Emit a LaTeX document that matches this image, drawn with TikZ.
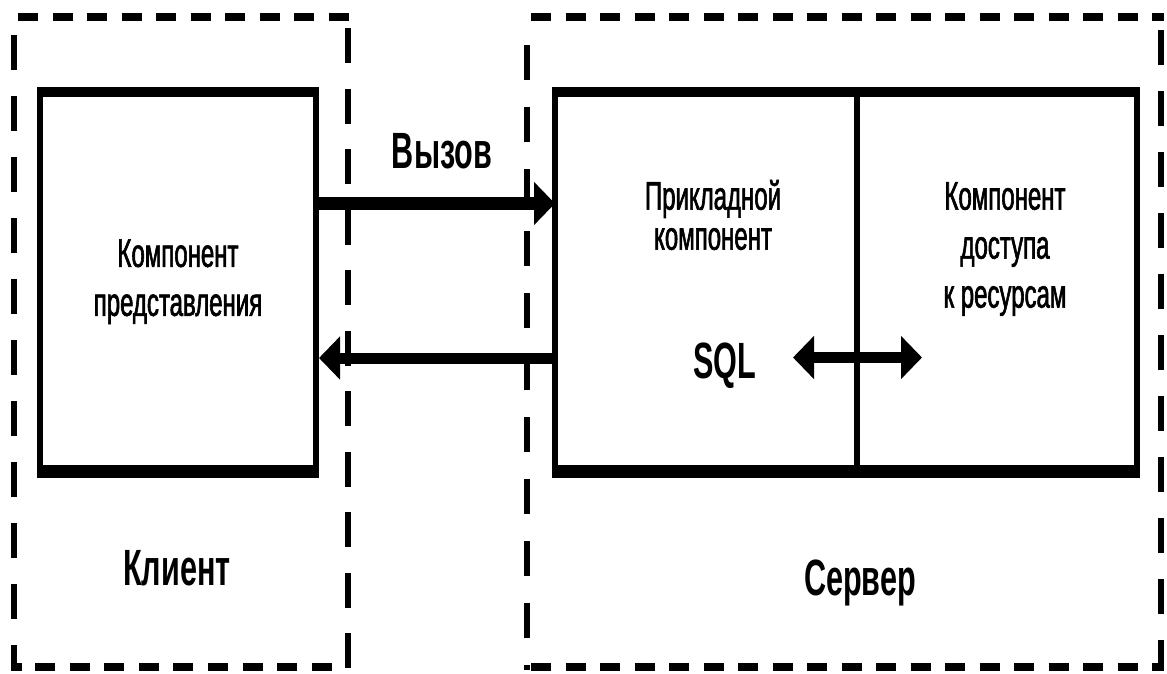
\documentclass[tikz,border=0pt]{standalone}
\usepackage{fontspec}
\setmainfont{Liberation Sans}
\newfontfamily\lab[FakeStretch=0.6]{Liberation Sans}
\newfontfamily\labh[FakeStretch=0.6,FakeBold=1.5]{Liberation Sans}
\usetikzlibrary{arrows.meta}
\begin{document}
\begin{tikzpicture}[x=1pt,y=-1pt,
  hd/.style={line width=8pt, dash pattern=on 20pt off 14.5pt},
  vd/.style={line width=6pt, dash pattern=on 35pt off 26pt},
  box/.style={draw, line width=6pt, inner sep=0pt, outer sep=0pt},
  lbl/.style={inner sep=0pt, outer sep=0pt, align=center, font=\labh\fontsize{40}{49}\selectfont},
  blbl/.style={inner sep=0pt, outer sep=0pt, font=\lab\bfseries\fontsize{51}{60}\selectfont},
  bigtip/.tip={Triangle[length=21pt,width=42pt]},
]
\useasboundingbox (0,0) rectangle (1167,673);

% client dashed frame
\draw[hd] (18,16.5) -- (349,16.5);
\draw[line width=8pt] (10.5,667) -- (22,667);
\draw[hd, dash pattern=on 20pt off 14.6pt] (35,667) -- (333,667);
\draw[vd] (13.5,35) -- (13.5,671);
\draw[vd, dash pattern=on 35pt off 25.5pt] (348,28) -- (348,670);

% server dashed frame
\draw[hd] (531,16.5) -- (1164,16.5);
\draw[hd] (531,667) -- (1164,667);
\draw[vd, dash pattern=on 35pt off 27pt] (526.5,45) -- (526.5,670);
\draw[vd, dash pattern=on 35pt off 26pt] (1161,30) -- (1161,670);

% presentation component
\node[box, lbl, minimum width=276pt, minimum height=379.5pt] (pres) at (178,281.75) {Компонент\\представления};
\draw[line width=10pt] ([xshift=-3pt]pres.north west) -- ([xshift=3pt]pres.north east);
\draw[line width=13pt] ([xshift=-3pt]pres.south west) -- ([xshift=3pt]pres.south east);

% server components
\node[box, minimum width=582pt, minimum height=379.5pt] (srv) at (846,281.75) {};
\draw[line width=10pt] ([xshift=-3pt]srv.north west) -- ([xshift=3pt]srv.north east);
\draw[line width=13pt] ([xshift=-3pt]srv.south west) -- ([xshift=3pt]srv.south east);
\coordinate (dv) at (857,281.75);
\draw[line width=6pt] (dv |- srv.north) -- (dv |- srv.south);

\node[lbl, font=\labh\fontsize{40}{40}\selectfont] (app) at (713,215) {Прикладной\\компонент};
\node[lbl] (res) at (1005,249) {Компонент\\доступа\\к ресурсам};

% call arrows
\coordinate (ya) at (0,203.5);
\coordinate (yb) at (0,358);
\draw[line width=13pt, -bigtip] (pres.east |- ya) -- (srv.west |- ya);
\draw[line width=11pt, -bigtip] (srv.west |- yb) -- ([xshift=3pt]pres.east |- yb);

% SQL arrow
\coordinate (sqlL) at (793,357.5);
\coordinate (sqlR) at (922,357.5);
\draw[line width=11pt, bigtip-bigtip] (sqlL) -- (sqlR);

% labels
\node[blbl, anchor=base] (call) at (442,168) {Вызов};
\node[blbl, anchor=base] (sql) at (725,378) {SQL};
\node[blbl, anchor=base] (cl) at (177,585) {Клиент};
\node[blbl, anchor=base] (sv) at (860,595) {Сервер};
\end{tikzpicture}
\end{document}
